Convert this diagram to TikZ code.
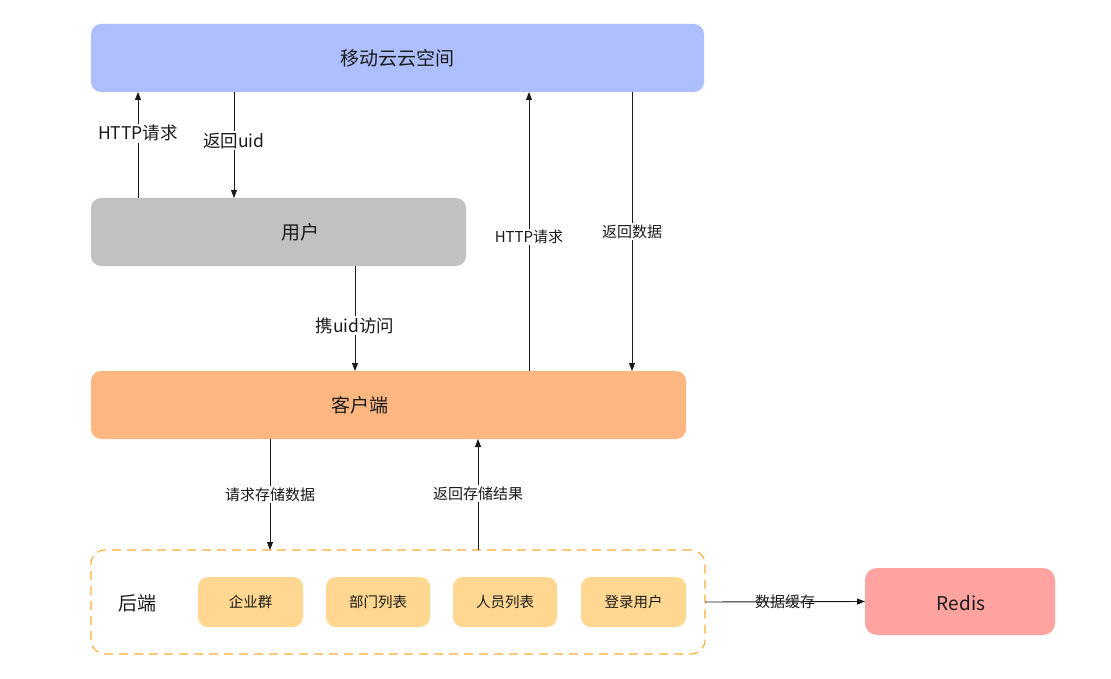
\documentclass[tikz,border=0pt]{standalone}
\usepackage{fontspec}
\setmainfont{Noto Sans CJK SC}
\usetikzlibrary{arrows.meta}
\definecolor{cloudc}{HTML}{ADBFFE}
\definecolor{userc}{HTML}{C1C1C1}
\definecolor{clientc}{HTML}{FFB781}
\definecolor{itemc}{HTML}{FFD791}
\definecolor{redisc}{HTML}{FFA3A0}
\definecolor{dashc}{HTML}{FFAA33}
\definecolor{txt}{HTML}{1A1A1A}
\begin{document}
\begin{tikzpicture}[x=1pt,y=-1pt,
  bigbox/.style={rounded corners=10pt, inner sep=0pt, outer sep=0pt, minimum height=68pt},
  bigtext/.style={inner sep=0pt, text=txt, font=\fontsize{19}{22}\selectfont},
  itembox/.style={fill=itemc, rounded corners=10pt, inner sep=0pt, outer sep=0pt,
    minimum width=104pt, minimum height=50pt, text=txt, font=\fontsize{14.5}{17}\selectfont},
  arr/.style={-{Triangle[length=8pt,width=6pt]}, line width=0.9pt, draw=txt},
  lbl/.style={fill=white, inner sep=1.5pt, text=txt, font=\fontsize{15}{17}\selectfont},
  mlbl/.style={fill=white, inner sep=1.5pt, text=txt, font=\fontsize{17.5}{20}\selectfont}
]
\useasboundingbox (0,0) rectangle (1111,679);

% main boxes
\node[bigbox, fill=cloudc, minimum width=613pt] (cloud) at (397.5,58) {};
\node[bigtext] (cloudt) at (397.5,58) {移动云云空间};
\node[bigbox, fill=userc, minimum width=375pt] (user) at (278.5,232) {};
\node[bigtext] (usert) at (300,232) {用户};
\node[bigbox, fill=clientc, minimum width=595pt] (client) at (388.5,405) {};
\node[bigtext] (clientt) at (360,405) {客户端};

% backend
\node[draw=dashc, line width=1.1pt, dash pattern=on 9pt off 6pt, rounded corners=14pt,
  inner sep=0pt, outer sep=0pt, minimum width=614pt, minimum height=104pt] (backend) at (398,602) {};
\node[bigtext] (backendt) at (137,603) {后端};
\node[itembox, minimum width=105pt] (qiye) at (250.5,602) {企业群};
\node[itembox] (bumen) at (378,602) {部门列表};
\node[itembox] (renyuan) at (505,602) {人员列表};
\node[itembox, minimum width=105pt] (denglu) at (633.5,602) {登录用户};

% redis
\node[bigbox, fill=redisc, minimum width=190pt, minimum height=67pt, rounded corners=12pt] (redis) at (960,601.5) {};
\node[bigtext] (redist) at (961,603) {Redis};

% connector columns
\coordinate (c1) at (138,0);
\coordinate (c2) at (234,0);
\coordinate (c3) at (355,0);
\coordinate (c4) at (529,0);
\coordinate (c5) at (632,0);
\coordinate (c6) at (270,0);
\coordinate (c7) at (478,0);

\draw[arr] (user.north -| c1) -- node[mlbl, pos=0.61] (l1) {HTTP请求} (cloud.south -| c1);
\draw[arr] (cloud.south -| c2) -- node[mlbl, pos=0.46] (l2) {返回uid} (user.north -| c2);
\draw[arr] (user.south -| c3) -- node[mlbl, pos=0.57] (l3) {携uid访问} (client.north -| c3);
\draw[arr] (client.north -| c4) -- node[lbl, pos=0.48] (l4) {HTTP请求} (cloud.south -| c4);
\draw[arr] (cloud.south -| c5) -- node[lbl, pos=0.50] (l5) {返回数据} (client.north -| c5);
\draw[arr] (client.south -| c6) -- node[lbl, pos=0.5] (l6) {请求存储数据} (backend.north -| c6);
\draw[arr] (backend.north -| c7) -- node[lbl, pos=0.51] (l7) {返回存储结果} (client.south -| c7);
\draw[arr] (backend.east) -- node[inner sep=0pt, text=txt, font=\fontsize{15}{17}\selectfont, pos=0.5] (l8) {数据缓存} (redis.west);
\end{tikzpicture}
\end{document}
